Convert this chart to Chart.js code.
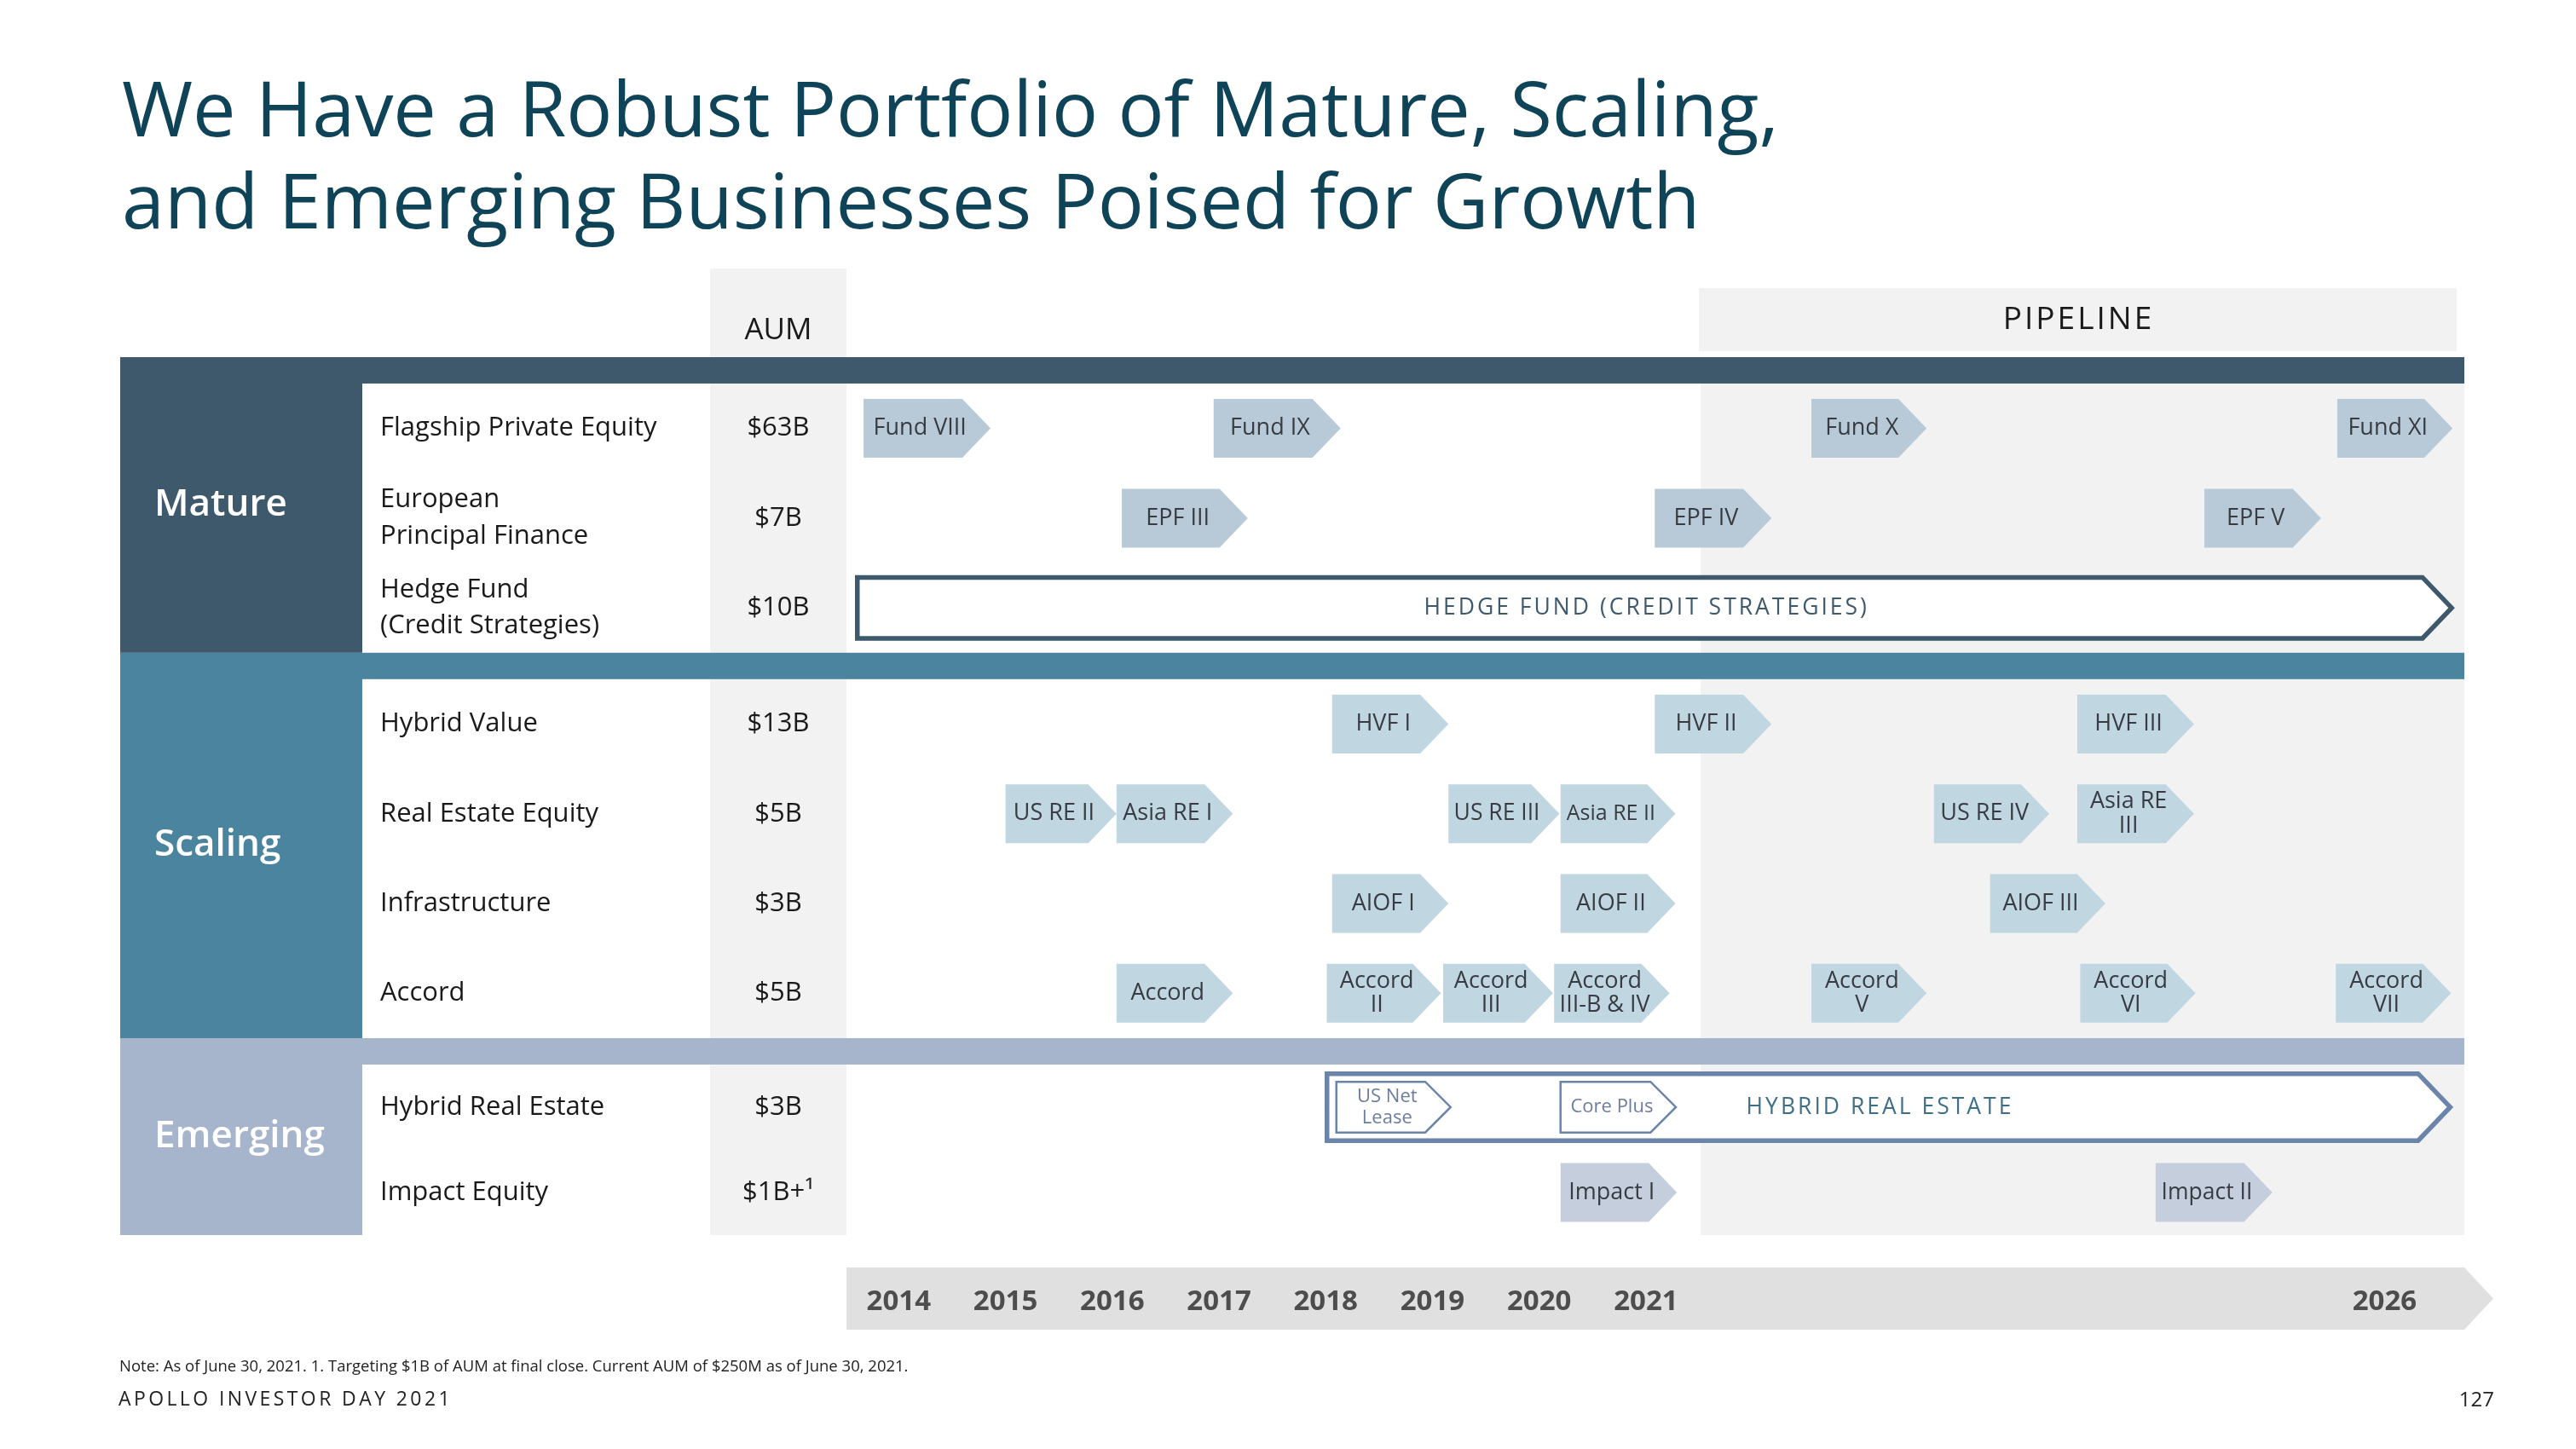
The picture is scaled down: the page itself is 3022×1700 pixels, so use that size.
<!DOCTYPE html>
<html>
<head>
<meta charset="utf-8">
<title>Apollo portfolio timeline</title>
<script src="https://cdn.jsdelivr.net/npm/chart.js@4.4.0/dist/chart.umd.min.js"></script>
<style>
  html, body { margin: 0; padding: 0; background: #fff; }
  #page { position: relative; width: 3022px; height: 1700px; overflow: hidden; font-family: "Open Sans", sans-serif; }
  #chartBox { position: absolute; left: 0; top: 0; width: 3022px; height: 1700px; }
  h1 { position: absolute; left: 143px; top: 71px; margin: 0; font-size: 90px; line-height: 108px; font-weight: 400; color: #0e4358; white-space: nowrap; }
  .note { position: absolute; left: 140px; top: 1593px; font-size: 18.5px; line-height: 18.5px; color: #222; white-space: nowrap; }
  .brand { position: absolute; left: 139px; top: 1629px; font-size: 23px; line-height: 23px; letter-spacing: 3.4px; color: #222; white-space: nowrap; }
  .pageno { position: absolute; right: 96px; top: 1629px; font-size: 24px; line-height: 24px; color: #222; }
</style>
</head>
<body>
<div id="page">
  <div id="chartBox"><canvas id="portfolio"></canvas></div>
  <h1>We Have a Robust Portfolio of Mature, Scaling,<br>and Emerging Businesses Poised for Growth</h1>
  <div class="note">Note: As of June 30, 2021. 1. Targeting $1B of AUM at final close. Current AUM of $250M as of June 30, 2021.</div>
  <div class="brand">APOLLO INVESTOR DAY 2021</div>
  <div class="pageno">127</div>
</div>
<script>
// ---- data
var SECTIONS = ["Mature", "Scaling", "Emerging"];
var ROW_NAMES = [
  "Flagship Private Equity",
  "European\nPrincipal Finance",
  "Hedge Fund\n(Credit Strategies)",
  "Hybrid Value",
  "Real Estate Equity",
  "Infrastructure",
  "Accord",
  "Hybrid Real Estate",
  "Impact Equity"
];
var ROW_SECTION = [0, 0, 0, 1, 1, 1, 1, 2, 2];
var ROW_AUM = ["$63B", "$7B", "$10B", "$13B", "$5B", "$3B", "$5B", "$3B", "$1B+\u00b9"];
var YEARS = [2014, 2015, 2016, 2017, 2018, 2019, 2020, 2021, 2026];
var PIPELINE_FROM = 2021.37;

// fund vintages (start and arrow tip, in years)
var FUND_NAMES = [
  "Fund VIII", "Fund IX", "Fund X", "Fund XI",
  "EPF III", "EPF IV", "EPF V",
  "HVF I", "HVF II", "HVF III",
  "US RE II", "Asia RE I", "US RE III", "Asia RE II", "US RE IV", "Asia RE\nIII",
  "AIOF I", "AIOF II", "AIOF III",
  "Accord", "Accord\nII", "Accord\nIII", "Accord\nIII-B & IV", "Accord\nV", "Accord\nVI", "Accord\nVII",
  "Impact I", "Impact II"
];
var FUND_ROWS = [0, 0, 0, 0, 1, 1, 1, 3, 3, 3, 4, 4, 4, 4, 4, 4, 5, 5, 5, 6, 6, 6, 6, 6, 6, 6, 8, 8];
var FUND_START = [
  2013.67, 2016.95, 2022.12, 2025.68,
  2016.09, 2021.06, 2024.78,
  2018.06, 2021.06, 2023.92,
  2015.00, 2016.04, 2019.15, 2020.20, 2022.95, 2023.92,
  2018.06, 2020.20, 2023.33,
  2016.04, 2018.01, 2019.10, 2020.14, 2022.12, 2023.94, 2025.67,
  2020.20, 2024.45
];
var FUND_END = [
  2014.86, 2018.14, 2022.90, 2026.46,
  2017.27, 2021.85, 2025.57,
  2019.15, 2021.85, 2024.71,
  2016.04, 2017.13, 2020.19, 2021.20, 2023.73, 2024.71,
  2019.15, 2021.20, 2024.11,
  2017.13, 2019.08, 2020.13, 2021.16, 2022.90, 2024.72, 2026.45,
  2021.21, 2025.24
];

// long outlined arrows
var FRAME_NAMES = ["HEDGE FUND (CREDIT STRATEGIES)", "HYBRID REAL ESTATE"];
var FRAME_ROWS = [2, 7];
var FRAME_START = [2013.59, 2017.99];
var FRAME_END = [2026.47, 2026.46];

// outlined vintages inside the hybrid real estate arrow
var INNER_NAMES = ["US Net\nLease", "Core Plus"];
var INNER_ROWS = [7, 7];
var INNER_START = [2018.09, 2020.19];
var INNER_END = [2019.18, 2021.21];

// ---- look
var FONT = '"Open Sans", sans-serif';
var SECTION_COLORS = ["#3e596c", "#4a849f", "#a6b5cc"];
var CHEVRON_FILLS = ["#b8cad7", "#c0d6e1", "#c4cedd"];
var FRAME_LINE = ["#3e596c", "#4a849f", "#6b84a9"];
var FRAME_TEXT = ["#3e596c", "#4a849f", "#3f6f87"];
var FRAME_THICK = [77, 84];
var LIGHT_GREY = "#f2f2f2";
var AXIS_GREY = "#e0e0e0";
var INK = "#1a1a1a";
var CHEVRON_INK = "#383c42";
var INNER_LINE = "#6b84a9";
var INNER_INK = "#6b7d9e";
var NONE = "rgba(0,0,0,0)";

// rows are 1 unit high, section bands a bit less than a third
var BAND_U = 0.294;
var SECTION_ROW_U = [1, 1, 0.95];

// pipeline years are spread wider than the history years
var LAST_HISTORY = 2021;
var PIPE_STRETCH = 1.384;
var X_FROM = 2013.51, X_TO = 2026.54;

function toAxis(year) {
  if (year <= LAST_HISTORY) return year - YEARS[0];
  return (LAST_HISTORY - YEARS[0]) + (year - LAST_HISTORY) * PIPE_STRETCH;
}

var rowCenter = [], sectionTop = [], sectionBottom = [];
var cursor = 0;
SECTIONS.forEach(function (s, si) {
  sectionTop.push(cursor);
  cursor += BAND_U;
  ROW_SECTION.forEach(function (rs, ri) {
    if (rs === si) {
      rowCenter[ri] = cursor + SECTION_ROW_U[si] / 2;
      cursor += SECTION_ROW_U[si];
    }
  });
  sectionBottom.push(cursor);
});
var Y_MAX = cursor;

function barsFor(rows, starts, ends) {
  return rows.map(function (r, i) {
    return { x: [toAxis(starts[i]), toAxis(ends[i])], y: rowCenter[r] };
  });
}

function chevron(c, x0, x1, yc, h, tip) {
  c.beginPath();
  c.moveTo(x0, yc - h / 2);
  c.lineTo(x1 - tip, yc - h / 2);
  c.lineTo(x1, yc);
  c.lineTo(x1 - tip, yc + h / 2);
  c.lineTo(x0, yc + h / 2);
  c.closePath();
}

function fitText(c, text, cx, cy, size, maxW, lineGap) {
  var lines = text.split("\n");
  var s = size;
  function widest() {
    var w = 0;
    lines.forEach(function (l) { w = Math.max(w, c.measureText(l).width); });
    return w;
  }
  c.font = s + "px " + FONT;
  while (s > 10 && widest() > maxW) {
    s -= 0.5;
    c.font = s + "px " + FONT;
  }
  var lh = s * lineGap;
  lines.forEach(function (l, i) {
    c.fillText(l, cx, cy + (i - (lines.length - 1) / 2) * lh);
  });
}

var slidePlugin = {
  id: "slide",
  beforeDraw: function (chart) {
    var c = chart.ctx, a = chart.chartArea;
    var xs = chart.scales.x, ys = chart.scales.y;
    var aumLeft = a.left - 160, aumMid = a.left - 80;
    c.save();

    // AUM column and pipeline shading
    c.fillStyle = LIGHT_GREY;
    c.fillRect(aumLeft, 315, 160, a.bottom - 315);
    var pipeX = xs.getPixelForValue(toAxis(PIPELINE_FROM));
    c.fillRect(pipeX, a.top, a.right - pipeX, a.bottom - a.top);
    c.fillRect(pipeX - 2, 338, a.right - 9 - pipeX + 2, 74);

    // section panels and bands
    SECTIONS.forEach(function (name, si) {
      var top = ys.getPixelForValue(sectionTop[si]);
      var bandBottom = ys.getPixelForValue(sectionTop[si] + BAND_U);
      var bottom = ys.getPixelForValue(sectionBottom[si]);
      c.fillStyle = SECTION_COLORS[si];
      c.fillRect(141, top, 425 - 141, bottom - top);
      c.fillRect(425, top, a.right - 425, bandBottom - top);
      c.fillStyle = "#ffffff";
      c.font = "600 44px " + FONT;
      c.textAlign = "left";
      c.textBaseline = "middle";
      c.fillText(name, 181, (top + bottom) / 2);
    });

    // time axis arrow
    var ay0 = a.bottom + 38, ay1 = a.bottom + 111;
    c.fillStyle = AXIS_GREY;
    c.beginPath();
    c.moveTo(a.left, ay0);
    c.lineTo(a.right, ay0);
    c.lineTo(a.right + 34, (ay0 + ay1) / 2);
    c.lineTo(a.right, ay1);
    c.lineTo(a.left, ay1);
    c.closePath();
    c.fill();

    // headers
    c.fillStyle = INK;
    c.textAlign = "center";
    c.textBaseline = "middle";
    c.font = "35px " + FONT;
    c.fillText("AUM", aumMid, 388);
    c.font = "37px " + FONT;
    c.letterSpacing = "3px";
    c.fillText("PIPELINE", (pipeX + a.right - 9) / 2, 375);
    c.letterSpacing = "0px";

    // AUM values
    c.font = "31px " + FONT;
    ROW_AUM.forEach(function (v, i) {
      c.fillText(v, aumMid, ys.getPixelForValue(rowCenter[i]));
    });
    c.restore();
  },
  afterDatasetsDraw: function (chart) {
    var c = chart.ctx;
    c.save();
    c.textAlign = "center";
    c.textBaseline = "middle";
    chart.data.datasets.forEach(function (ds, di) {
      var meta = chart.getDatasetMeta(di);
      meta.data.forEach(function (bar, i) {
        var p = bar.getProps(["x", "y", "base", "height"], true);
        var x0 = Math.min(p.x, p.base), x1 = Math.max(p.x, p.base);
        var h = p.height, tip = h * 0.48;
        var sec = ROW_SECTION[ds.rows[i]];
        var name = ds.names[i];
        if (ds.kind === "frame") {
          var lw = 5.5;
          chevron(c, x0 + lw / 2, x1 - lw / 2, p.y, h - lw, tip - lw / 2);
          c.fillStyle = "#ffffff";
          c.fill();
          c.lineWidth = lw;
          c.lineJoin = "miter";
          c.strokeStyle = FRAME_LINE[sec];
          c.stroke();
          c.fillStyle = FRAME_TEXT[sec];
          c.font = "26.5px " + FONT;
          c.letterSpacing = "3px";
          c.fillText(name, (x0 + x1 - tip / 2) / 2, p.y);
          c.letterSpacing = "0px";
        } else if (ds.kind === "inner") {
          chevron(c, x0 + 1.25, x1 - 1.25, p.y, h - 2.5, tip);
          c.fillStyle = "#ffffff";
          c.fill();
          c.lineWidth = 2.5;
          c.strokeStyle = INNER_LINE;
          c.stroke();
          c.fillStyle = INNER_INK;
          fitText(c, name, x0 + (x1 - x0 - tip) / 2 + tip * 0.25, p.y, 22, x1 - x0 - tip + 4, 1.13);
        } else {
          chevron(c, x0, x1, p.y, h, tip);
          c.fillStyle = CHEVRON_FILLS[sec];
          c.fill();
          c.fillStyle = CHEVRON_INK;
          fitText(c, name, x0 + (x1 - x0 - tip) / 2 + tip * 0.25, p.y, 27, x1 - x0 - tip + 4, 1.07);
        }
      });
    });
    c.restore();
  }
};

Chart.defaults.font.family = FONT;

var datasets = FRAME_NAMES.map(function (n, i) {
  return {
    label: n, kind: "frame", names: [n], rows: [FRAME_ROWS[i]],
    data: barsFor([FRAME_ROWS[i]], [FRAME_START[i]], [FRAME_END[i]]),
    barThickness: FRAME_THICK[i], backgroundColor: NONE, borderColor: NONE, borderWidth: 0
  };
});
datasets.push({
  label: "Vintages", kind: "solid", names: FUND_NAMES, rows: FUND_ROWS,
  data: barsFor(FUND_ROWS, FUND_START, FUND_END), barThickness: 69,
  backgroundColor: NONE, borderColor: NONE, borderWidth: 0
});
datasets.push({
  label: "Hybrid real estate vintages", kind: "inner", names: INNER_NAMES, rows: INNER_ROWS,
  data: barsFor(INNER_ROWS, INNER_START, INNER_END), barThickness: 62,
  backgroundColor: NONE, borderColor: NONE, borderWidth: 0
});

new Chart(document.getElementById("portfolio"), {
  type: "bar",
  data: { datasets: datasets },
  options: {
    indexAxis: "y",
    responsive: true,
    maintainAspectRatio: false,
    animation: false,
    events: [],
    layout: { padding: { left: 446, top: 419, right: 131, bottom: 140 } },
    datasets: { bar: { grouped: false } },
    plugins: { legend: { display: false }, tooltip: { enabled: false }, colors: { enabled: false } },
    scales: {
      x: {
        type: "linear",
        position: "bottom",
        offset: false,
        min: toAxis(X_FROM),
        max: toAxis(X_TO),
        grid: { display: false },
        border: { display: false },
        afterBuildTicks: function (s) {
          s.ticks = YEARS.map(function (y) { return { value: toAxis(y) }; });
        },
        afterFit: function (s) { s.height = 111; },
        ticks: {
          autoSkip: false,
          maxRotation: 0,
          padding: 51,
          color: "#4d4d4d",
          font: { size: 33, weight: "bold" },
          callback: function (v, i) { return String(YEARS[i]); }
        }
      },
      y: {
        type: "linear",
        position: "left",
        reverse: true,
        offset: false,
        min: 0,
        max: Y_MAX,
        grid: { display: false },
        border: { display: false },
        afterBuildTicks: function (s) {
          s.ticks = rowCenter.map(function (v) { return { value: v }; });
        },
        afterFit: function (s) { s.width = 547; },
        ticks: {
          autoSkip: false,
          crossAlign: "far",
          padding: 0,
          color: INK,
          font: { size: 31, lineHeight: 1.38 },
          callback: function (v, i) { return ROW_NAMES[i].split("\n"); }
        }
      }
    }
  },
  plugins: [slidePlugin]
});
</script>
</body>
</html>
